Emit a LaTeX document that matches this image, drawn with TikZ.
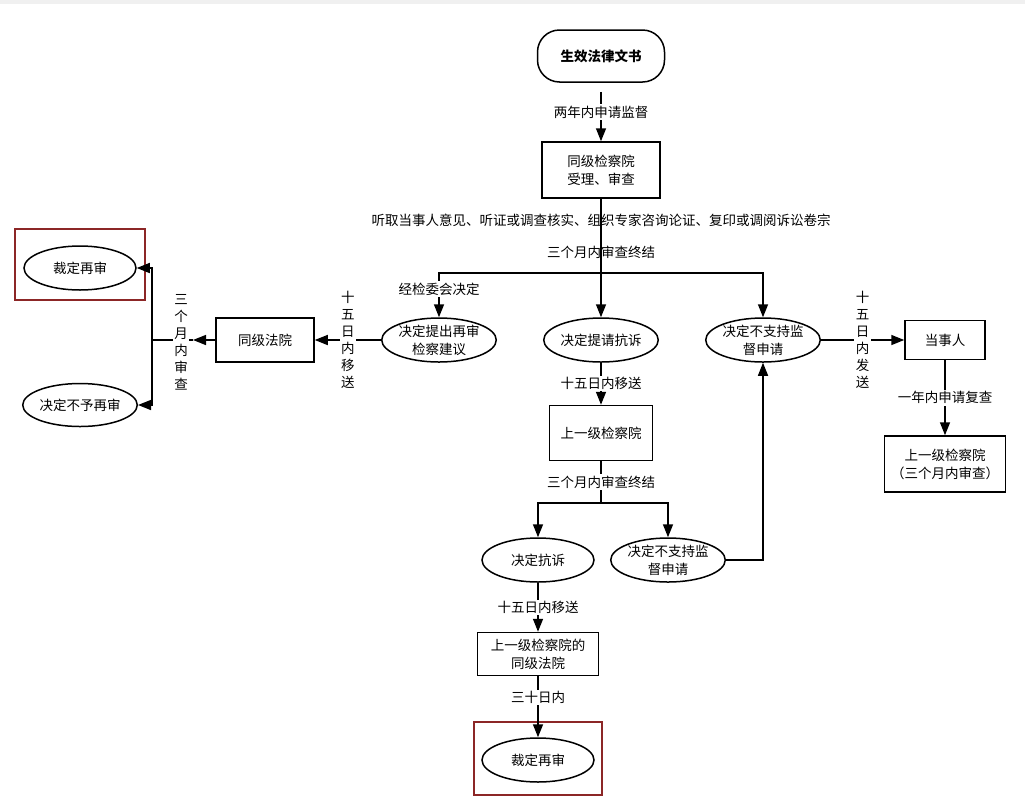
\documentclass[tikz,border=0pt]{standalone}
\usepackage{fontspec}
\setmainfont{Noto Sans CJK SC}
\usepackage{tikz}
\usetikzlibrary{arrows,arrows.meta,calc,positioning,shapes}
\tikzset{
  flow_n/.style = {align=center, inner sep=2pt, black, draw, line width=1.5pt, fill=white, text
  centered},
  box_n/.style = {flow_n, rectangle},
  oval_n/.style = {flow_n, ellipse, inner sep=0pt},
  lbl_n/.style = {align=center, inner sep=1.5pt, fill=white, text centered}
}
\definecolor{my_black}{RGB}{30, 30, 30}
\definecolor{my_red}{RGB}{140, 38, 38}

\begin{document}
\begin{tikzpicture}[x=1pt,y=-1pt,->,>={Triangle[length=13pt,width=10pt]},line width=1.5pt,
            font=\fontsize{13.5}{18}\selectfont,
            start/.style={box_n, rounded corners=22pt, minimum width=127pt, minimum height=52pt},
            vert/.style={lbl_n, font=\fontsize{13.5}{17}\selectfont},
            frame/.style={draw=my_red, line width=1.6pt, -}]
    \useasboundingbox (0,0) rectangle (1025,801);
    \fill[gray!12] (0,0) rectangle (1025,4);
    % nodes
    \node [start] (doc) at (601,56) {\textbf{生效法律文书}};
    \node [box_n, minimum width=118pt, minimum height=56pt] (recv) at (601,170) {同级检察院\\受理、审查};
    \node [oval_n, minimum width=110pt, minimum height=44pt] (advise) at (439,340) {决定提出再审\\检察建议};
    \node [oval_n, minimum width=112pt, minimum height=44pt] (appeal_req) at (601,340) {决定提请抗诉};
    \node [oval_n, minimum width=112pt, minimum height=44pt] (reject) at (763,340) {决定不支持监\\督申请};
    \node [box_n, minimum width=98pt, minimum height=44pt] (court) at (265,340) {同级法院};
    \node [oval_n, minimum width=112pt, minimum height=44pt] (retrial_l) at (80,268) {裁定再审};
    \node [oval_n, minimum width=113pt, minimum height=43pt] (refuse_l) at (80,405) {决定不予再审};
    \node [box_n, minimum width=80pt, minimum height=39pt] (party) at (945,340) {当事人};
    \node [box_n, minimum width=121pt, minimum height=56pt] (upper_rev) at (945,464) {上一级检察院\\（三个月内审查）};
    \node [box_n, minimum width=103pt, minimum height=55pt] (upper) at (601,433) {上一级检察院};
    \node [oval_n, minimum width=112pt, minimum height=44pt] (appeal) at (538,560) {决定抗诉};
    \node [oval_n, minimum width=113pt, minimum height=44pt] (reject_b) at (668,560) {决定不支持监\\督申请};
    \node [box_n, minimum width=121pt, minimum height=43pt] (upper_court) at (538,654) {上一级检察院的\\同级法院};
    \node [oval_n, minimum width=112pt, minimum height=44pt] (retrial_b) at (538,760) {裁定再审};
    \coordinate (j_top) at (601,273);
    \coordinate (j_mid) at (601,503);
    \coordinate (j_left) at (152,340);
    \coordinate (c_tip) at (193,340);
    % frames
    \draw [frame] (15,229) rectangle (145,300);
    \draw [frame] (474,722) rectangle (602,795);
    % connectors
    \draw [shorten <=9pt] (doc) -- node[lbl_n] {两年内申请监督} (recv);
    \draw [-] (recv) -- node[pos=0.29, inner sep=1pt] {听取当事人意见、听证或调查核实、组织专家咨询论证、复印或调阅诉讼卷宗}
        node[pos=0.72, inner sep=1pt] {三个月内审查终结} (j_top);
    \draw (j_top) -| node[lbl_n, pos=0.68] {经检委会决定} (advise);
    \draw (j_top) -- (appeal_req);
    \draw (j_top) -| (reject);
    \draw (advise) -- node[vert] {十\\五\\日\\内\\移\\送} (court);
    \draw (court) -- (c_tip);
    \draw [-] (c_tip) -- (j_left);
    \node [vert] (lbl_three) at (181,342) {三\\个\\月\\内\\审\\查};
    \draw (j_left) |- (retrial_l);
    \draw (j_left) |- (refuse_l);
    \draw (reject) -- node[vert] {十\\五\\日\\内\\发\\送} (party);
    \draw (party) -- node[lbl_n] {一年内申请复查} (upper_rev);
    \draw (appeal_req) -- node[lbl_n] {十五日内移送} (upper);
    \draw [-] (upper) -- node[lbl_n] {三个月内审查终结} (j_mid);
    \draw (j_mid) -| (appeal);
    \draw (j_mid) -| (reject_b);
    \draw (reject_b) -| (reject);
    \draw (appeal) -- node[lbl_n] {十五日内移送} (upper_court);
    \draw (upper_court) -- node[lbl_n, pos=0.35] {三十日内} (retrial_b);
\end{tikzpicture}
\end{document}
